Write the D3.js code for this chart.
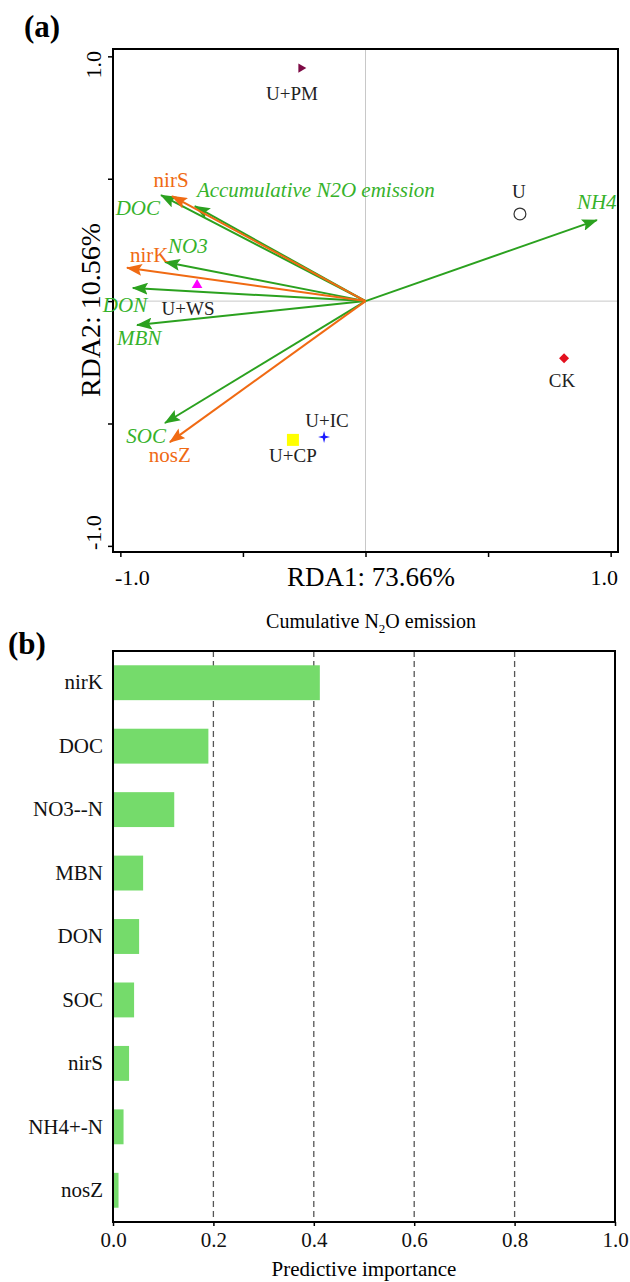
<!DOCTYPE html>
<html>
<head>
<meta charset="utf-8">
<script src="https://cdn.jsdelivr.net/npm/d3@7"></script>
<style>
  body { margin: 0; background: #fff; }
  svg { display: block; font-family: "Liberation Serif", "Times New Roman", serif; }
</style>
</head>
<body>
<svg id="chart" width="630" height="1282"></svg>
<script>
// ---- panel (a) data: RDA biplot ----
const arrowNames = ["Accumulative N2O emission", "DOC", "NO3", "DON", "MBN", "SOC", "NH4", "nirS", "nirK", "nosZ"];
const arrowGroup = ["env", "env", "env", "env", "env", "env", "env", "gene", "gene", "gene"];
const arrowRDA1 = [-0.696, -0.834, -0.818, -0.949, -0.932, -0.818, 0.944, -0.789, -0.973, -0.798];
const arrowRDA2 = [0.388, 0.433, 0.160, 0.054, -0.098, -0.498, 0.331, 0.429, 0.136, -0.576];

const sampleNames = ["U+PM", "U", "U+WS", "CK", "U+IC", "U+CP"];
const sampleRDA1 = [-0.263, 0.630, -0.687, 0.810, -0.169, -0.296];
const sampleRDA2 = [0.952, 0.356, 0.066, -0.233, -0.555, -0.567];

// ---- panel (b) data: predictive importance ----
const predictors = ["nirK", "DOC", "NO3--N", "MBN", "DON", "SOC", "nirS", "NH4+-N", "nosZ"];
const importance = [0.412, 0.19, 0.122, 0.06, 0.052, 0.042, 0.032, 0.021, 0.011];
const importanceTicks = [0, 0.2, 0.4, 0.6, 0.8, 1.0];

const svg = d3.select("#chart");
const green = "#2ba11f", greenText = "#36b22a", orange = "#f06a13";

// label placement (pixels, relative to arrow tip / point)
const arrowLabel = {
  "nirS": [-1, -9, "middle"],
  "Accumulative N2O emission": [2, -9, "start"],
  "DOC": [-1, 20, "end"],
  "NO3": [3, -9, "start"],
  "nirK": [3, -6, "start"],
  "DON": [-30, 24, "start"],
  "MBN": [-20, 20, "start"],
  "SOC": [1, 20, "end"],
  "nosZ": [-21, 20, "start"],
  "NH4": [-20, -11, "start"]
};
const sampleLabel = {
  "U+PM": [-9, 32], "U": [-1, -16], "U+WS": [-9, 30],
  "CK": [-2, 29], "U+IC": [3, -10], "U+CP": [0, 22]
};

// custom 4-point star
const star4 = {
  draw(ctx, size) {
    const R = Math.sqrt(size) * 0.75, r = R * 0.3;
    for (let i = 0; i < 8; i++) {
      const a = i * Math.PI / 4 - Math.PI / 2;
      const rr = i % 2 === 0 ? R : r;
      const px = Math.cos(a) * rr, py = Math.sin(a) * rr;
      if (i === 0) ctx.moveTo(px, py); else ctx.lineTo(px, py);
    }
    ctx.closePath();
  }
};
const sampleStyle = {
  "U+PM": { type: d3.symbolTriangle, size: 36, rot: 90, fill: "#7d0a45", stroke: "none" },
  "U": { type: d3.symbolCircle, size: 110, rot: 0, fill: "none", stroke: "#333" },
  "U+WS": { type: d3.symbolTriangle, size: 48, rot: 0, fill: "#ff00ff", stroke: "none" },
  "CK": { type: d3.symbolSquare, size: 50, rot: 45, fill: "#e3101e", stroke: "none" },
  "U+IC": { type: star4, size: 64, rot: 0, fill: "#1a1aff", stroke: "none" },
  "U+CP": { type: d3.symbolSquare, size: 144, rot: 0, fill: "#ffff00", stroke: "none" }
};

// ====== PANEL (a) ======
const xA = d3.scaleLinear().domain([-1.03, 1.03]).range([113, 618]);
const yA = d3.scaleLinear().domain([-1.025, 1.03]).range([552, 49]);

svg.append("text").attr("x", 24).attr("y", 37)
  .attr("font-size", 31).attr("font-weight", "bold").text("(a)");

// zero lines
svg.append("line").attr("x1", xA(0)).attr("x2", xA(0)).attr("y1", 49).attr("y2", 552)
  .attr("stroke", "#c8c8c8").attr("stroke-width", 1);
svg.append("line").attr("x1", 113).attr("x2", 618).attr("y1", yA(0)).attr("y2", yA(0))
  .attr("stroke", "#c8c8c8").attr("stroke-width", 1);

// axes
svg.append("g").attr("transform", "translate(0,552)")
  .call(d3.axisBottom(xA).tickValues([-1, -0.5, 0, 0.5, 1]).tickSize(5).tickFormat(""))
  .call(g => g.select(".domain").remove())
  .selectAll("line").attr("stroke-width", 1.5);
svg.append("g").attr("transform", "translate(113,0)")
  .call(d3.axisLeft(yA).tickValues([-1, -0.5, 0, 0.5, 1]).tickSize(5).tickFormat(""))
  .call(g => g.select(".domain").remove())
  .selectAll("line").attr("stroke-width", 1.5);
svg.append("rect").attr("x", 113).attr("y", 49).attr("width", 505).attr("height", 503)
  .attr("fill", "none").attr("stroke", "#000").attr("stroke-width", 2);

svg.append("text").attr("x", 115).attr("y", 585).attr("font-size", 22).text("-1.0");
svg.append("text").attr("x", 618).attr("y", 585).attr("font-size", 22)
  .attr("text-anchor", "end").text("1.0");
svg.append("text").attr("transform", "translate(101,51) rotate(-90)")
  .attr("font-size", 22).attr("text-anchor", "end").text("1.0");
svg.append("text").attr("transform", "translate(101,550) rotate(-90)")
  .attr("font-size", 22).text("-1.0");

svg.append("text").attr("x", 371).attr("y", 586).attr("font-size", 27)
  .attr("text-anchor", "middle").text("RDA1: 73.66%");
svg.append("text").attr("transform", "translate(100,310) rotate(-90)")
  .attr("font-size", 28).attr("text-anchor", "middle").text("RDA2: 10.56%");

const cum = svg.append("text").attr("x", 371).attr("y", 628).attr("font-size", 20)
  .attr("text-anchor", "middle");
cum.append("tspan").text("Cumulative N");
cum.append("tspan").attr("font-size", 13).attr("dy", 5).text("2");
cum.append("tspan").attr("dy", -5).text("O emission");

// arrow markers
const defs = svg.append("defs");
[["head-env", green], ["head-gene", orange]].forEach(([id, c]) => {
  defs.append("marker").attr("id", id)
    .attr("markerUnits", "userSpaceOnUse")
    .attr("viewBox", "0 0 16 12").attr("refX", 15).attr("refY", 6)
    .attr("markerWidth", 16).attr("markerHeight", 12).attr("orient", "auto")
    .append("path").attr("d", "M0,0 L16,6 L0,12 L3,6 z").attr("fill", c);
});

const arrows = arrowNames.map((n, i) => ({ name: n, group: arrowGroup[i], x: arrowRDA1[i], y: arrowRDA2[i] }));

svg.append("g").selectAll("line")
  .data(arrows)
  .enter().append("line")
  .attr("x1", xA(0)).attr("y1", yA(0))
  .attr("x2", d => xA(d.x)).attr("y2", d => yA(d.y))
  .attr("stroke", d => d.group === "env" ? green : orange)
  .attr("stroke-width", 2)
  .attr("marker-end", d => `url(#head-${d.group})`);

svg.append("g").selectAll("text")
  .data(arrows)
  .enter().append("text")
  .attr("x", d => xA(d.x) + arrowLabel[d.name][0])
  .attr("y", d => yA(d.y) + arrowLabel[d.name][1])
  .attr("text-anchor", d => arrowLabel[d.name][2])
  .attr("font-size", 21)
  .attr("font-style", d => d.group === "env" ? "italic" : "normal")
  .attr("fill", d => d.group === "env" ? greenText : orange)
  .text(d => d.name);

// sample points
const samples = sampleNames.map((n, i) => ({ name: n, x: sampleRDA1[i], y: sampleRDA2[i] }));

svg.append("g").selectAll("path")
  .data(samples)
  .enter().append("path")
  .attr("transform", d => `translate(${xA(d.x)},${yA(d.y)}) rotate(${sampleStyle[d.name].rot})`)
  .attr("d", d => d3.symbol(sampleStyle[d.name].type, sampleStyle[d.name].size)())
  .attr("fill", d => sampleStyle[d.name].fill)
  .attr("stroke", d => sampleStyle[d.name].stroke)
  .attr("stroke-width", 1.2);

svg.append("g").selectAll("text")
  .data(samples)
  .enter().append("text")
  .attr("x", d => xA(d.x) + sampleLabel[d.name][0])
  .attr("y", d => yA(d.y) + sampleLabel[d.name][1])
  .attr("text-anchor", "middle")
  .attr("font-size", 19)
  .attr("fill", "#222")
  .text(d => d.name);

// ====== PANEL (b) ======
const xB = d3.scaleLinear().domain([0, 1]).range([113, 615]);
const yB = d3.scaleBand().domain(predictors).range([651, 1222])
  .paddingInner(0.45).paddingOuter(0.225);

svg.append("text").attr("x", 8).attr("y", 654)
  .attr("font-size", 31).attr("font-weight", "bold").text("(b)");

// dashed reference lines
svg.append("g").selectAll("line")
  .data(importanceTicks.filter(t => t > 0 && t < 1))
  .enter().append("line")
  .attr("x1", d => xB(d)).attr("x2", d => xB(d))
  .attr("y1", 651).attr("y2", 1222)
  .attr("stroke", "#555").attr("stroke-width", 1.3)
  .attr("stroke-dasharray", "6,4");

svg.append("g").selectAll("rect")
  .data(predictors)
  .enter().append("rect")
  .attr("x", xB(0))
  .attr("y", d => yB(d))
  .attr("width", (d, i) => xB(importance[i]) - xB(0))
  .attr("height", yB.bandwidth())
  .attr("fill", "#75db6b");

svg.append("g").attr("transform", "translate(0,1222)")
  .call(d3.axisBottom(xB).tickValues(importanceTicks).tickSize(4).tickPadding(6)
    .tickFormat(d3.format(".1f")))
  .call(g => g.select(".domain").remove())
  .call(g => g.selectAll("text").attr("font-size", 21).attr("fill", "#111")
    .attr("font-family", "Liberation Serif"))
  .selectAll("line").attr("stroke-width", 1.5);

svg.append("g").attr("transform", "translate(113,0)")
  .call(d3.axisLeft(yB).tickSize(0).tickPadding(10))
  .call(g => g.select(".domain").remove())
  .selectAll("text").attr("font-size", 21).attr("fill", "#111")
  .attr("font-family", "Liberation Serif");

svg.append("rect").attr("x", 113).attr("y", 651).attr("width", 502).attr("height", 571)
  .attr("fill", "none").attr("stroke", "#000").attr("stroke-width", 2);

svg.append("text").attr("x", 364).attr("y", 1276).attr("font-size", 21)
  .attr("text-anchor", "middle").text("Predictive importance");
</script>
</body>
</html>
